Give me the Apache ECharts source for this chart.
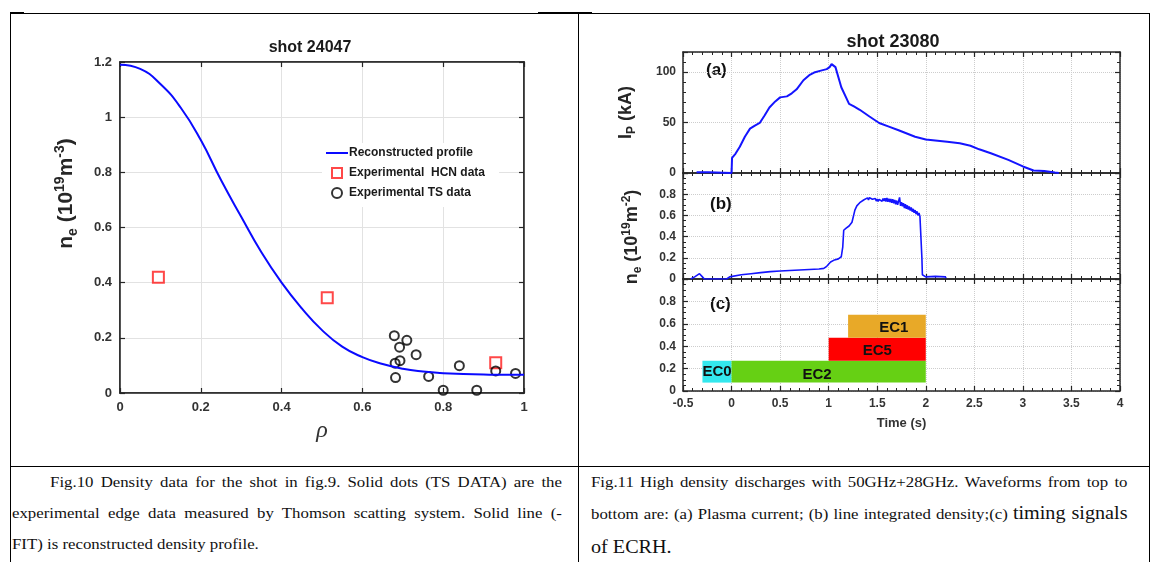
<!DOCTYPE html>
<html>
<head>
<meta charset="utf-8">
<title>shot 24047 / shot 23080</title>
<script src="https://cdn.jsdelivr.net/npm/echarts@6/dist/echarts.min.js"></script>
<style>
    body { margin: 0; background: #fff; }
    #page { position: relative; width: 1152px; height: 562px; overflow: hidden; background: #fff; }
    #chart { position: absolute; left: 0; top: 0; width: 1152px; height: 466px; }
    .ln { position: absolute; background: #000; }
    .cap { position: absolute; font-family: 'Liberation Serif', 'Times New Roman', serif; font-size: 15px; color: #111; }
    /* the scanned caption is a little wider than Liberation Serif, so stretch each line */
    .cap div { height: 31px; line-height: 31px; white-space: nowrap; text-align: justify; text-align-last: justify;
               transform: scaleX(1.12); transform-origin: 0 0; }
    .cap div.last { text-align-last: left; }
    .big { font-size: 18px; }
</style>
</head>
<body>
<div id="page">
    <div id="chart"></div>
    <!-- table lines -->
    <div class="ln" style="left:10px;top:13px;width:1140px;height:1px;"></div>
    <div class="ln" style="left:10px;top:12px;width:14px;height:2px;"></div>
    <div class="ln" style="left:538px;top:12px;width:54px;height:2px;"></div>
    <div class="ln" style="left:10px;top:13px;width:1px;height:549px;"></div>
    <div class="ln" style="left:578px;top:13px;width:1px;height:549px;"></div>
    <div class="ln" style="left:1149px;top:13px;width:1px;height:549px;"></div>
    <div class="ln" style="left:10px;top:466px;width:1140px;height:1px;"></div>
    <!-- captions (widths are target width / 1.12) -->
    <div class="cap" style="left:12px;top:467px;">
        <div style="width:457px;padding-left:34px;">Fig.10 Density data for the shot in fig.9. Solid dots (TS DATA) are the</div>
        <div style="width:491px;">experimental edge data measured by Thomson scatting system. Solid line (-</div>
        <div class="last" style="width:491px;">FIT) is reconstructed density profile.</div>
    </div>
    <div class="cap" style="left:591px;top:467px;">
        <div style="width:479px;">Fig.11 High density discharges with 50GHz+28GHz. Waveforms from top to</div>
        <div style="width:479px;">bottom are: (a) Plasma current; (b) line integrated density;(c) <span class="big">timing signals</span></div>
        <div class="last big" style="width:479px;height:36px;line-height:36px;">of ECRH.</div>
    </div>
</div>
<script>
    // ---- shot 24047 : density profile ----
    var rho = [0, 0.05, 0.1, 0.15, 0.2, 0.25, 0.3, 0.35, 0.4, 0.45, 0.5, 0.55, 0.6, 0.65, 0.7, 0.75, 0.8, 0.85, 0.9, 0.95, 1];
    var neFit = [1.19, 1.175, 1.12, 1.035, 0.917, 0.772, 0.639, 0.51, 0.40, 0.307, 0.228, 0.168, 0.13, 0.105, 0.088, 0.078, 0.072, 0.069, 0.067, 0.066, 0.066];
    var hcnRho = [0.095, 0.513, 0.93];
    var hcnNe = [0.42, 0.345, 0.11];
    var tsRho = [0.679, 0.710, 0.692, 0.733, 0.693, 0.681, 0.682, 0.764, 0.800, 0.840, 0.883, 0.930, 0.979];
    var tsNe = [0.208, 0.191, 0.166, 0.139, 0.117, 0.108, 0.056, 0.060, 0.010, 0.099, 0.010, 0.080, 0.071];

    // ---- shot 23080 : waveforms ----
    var ipT = [-0.36, -0.24, -0.23, 0, 0.005, 0.04, 0.085, 0.137, 0.19, 0.24, 0.29, 0.34, 0.39, 0.45, 0.5, 0.57, 0.62, 0.67, 0.74, 0.8, 0.85, 0.92, 0.98, 1.01, 1.03, 1.05, 1.07, 1.13, 1.21, 1.26, 1.32, 1.42, 1.52, 1.62, 1.72, 1.89, 2.0, 2.22, 2.35, 2.46, 2.55, 2.67, 2.85, 3.0, 3.11, 3.22, 3.33, 3.37];
    var ipV = [0.8, 0.8, 0, 0, 15, 19, 26, 36, 44, 47, 49.6, 57, 65, 71, 75, 76, 79, 83, 92, 97, 99.6, 101.5, 103, 105, 108, 108, 105, 85, 68.6, 66, 62.7, 56, 49.6, 46, 42.4, 36, 33.3, 31, 29.5, 27, 23.5, 19.6, 13, 6.5, 2.5, 2, 0.5, 0];
    var neT = [-0.42, -0.38, -0.33, -0.3, -0.28, -0.05, -0.02, 0, 0.1, 0.2, 0.3, 0.4, 0.5, 0.6, 0.7, 0.8, 0.9, 0.95, 0.98, 1.02, 1.06, 1.1, 1.13, 1.145, 1.155, 1.18, 1.21, 1.24, 1.27, 1.29, 1.32, 1.36,
        1.40, 1.41, 1.42, 1.43, 1.44, 1.45, 1.46, 1.47, 1.48, 1.49, 1.50, 1.51, 1.52, 1.53, 1.54, 1.55, 1.56, 1.57, 1.58, 1.59,
        1.60, 1.61, 1.62, 1.63, 1.64, 1.65, 1.66, 1.67, 1.68, 1.69, 1.70, 1.71, 1.72, 1.73, 1.74, 1.75, 1.76, 1.77, 1.78, 1.79,
        1.80, 1.81, 1.82, 1.83, 1.84, 1.85, 1.86, 1.87, 1.88, 1.89, 1.90, 1.91, 1.92, 1.93, 1.94, 1.95, 1.955, 1.96, 1.965,
        2.0, 2.1, 2.2, 2.21];
    var neV = [0, 0.02, 0.05, 0.02, 0, 0, 0.02, 0.03, 0.04, 0.05, 0.06, 0.07, 0.075, 0.08, 0.085, 0.09, 0.095, 0.1, 0.12, 0.16, 0.18, 0.19, 0.21, 0.3, 0.46, 0.48, 0.5, 0.535, 0.65, 0.69, 0.72, 0.745,
        0.765, 0.745, 0.768, 0.75, 0.772, 0.752, 0.768, 0.745, 0.76, 0.735, 0.755, 0.732, 0.752, 0.735, 0.758, 0.733, 0.76, 0.735, 0.762, 0.73,
        0.765, 0.728, 0.758, 0.725, 0.755, 0.72, 0.752, 0.715, 0.745, 0.705, 0.74, 0.70, 0.735, 0.77, 0.69, 0.725, 0.685, 0.715, 0.67, 0.705,
        0.662, 0.695, 0.655, 0.685, 0.645, 0.675, 0.635, 0.662, 0.625, 0.65, 0.612, 0.638, 0.6, 0.622, 0.59, 0.6, 0.58, 0.2, 0.04,
        0.02, 0.025, 0.02, 0.01];

    // ECRH timing
    var ecNames = ['EC0', 'EC2', 'EC5', 'EC1'];
    var ecStart = [-0.3, 0, 1, 1.2];
    var ecEnd = [0, 2, 2, 2];
    var ecLow = [0.075, 0.075, 0.27, 0.475];
    var ecHigh = [0.27, 0.27, 0.475, 0.68];
    var ecLabelT = [-0.15, 0.88, 1.5, 1.67];
    var ecLabelY = [0.17, 0.146, 0.357, 0.56];
    var ecColors = ['#33e8ee', '#66d014', '#ff0000', '#e8a928'];

    var AX = '#262626';
    var FONT = "'Liberation Sans', Arial, sans-serif";

    function zip(a, b) {
        return a.map(function (v, i) { return [v, b[i]]; });
    }

    function axis(gridIndex, position, min, max, interval, extra) {
        var a = {
            type: 'value', gridIndex: gridIndex, position: position,
            min: min, max: max, interval: interval,
            axisLine: { show: true, onZero: false, lineStyle: { color: AX, width: 1.5 } },
            axisTick: { show: true, inside: true, length: 5, lineStyle: { color: AX, width: 1.2 } },
            axisLabel: { show: false },
            splitLine: { show: false }
        };
        for (var k in extra) a[k] = extra[k];
        return a;
    }

    var lblLeft = { show: true, color: '#333', fontWeight: 'bold', fontSize: 13, fontFamily: FONT, margin: 8 };
    var lblRight = { show: true, color: '#333', fontWeight: 'bold', fontSize: 12, fontFamily: FONT, margin: 7, showMaxLabel: false };
    var gridSolid = { show: true, lineStyle: { color: '#e2e2e2', width: 1 } };
    var gridDot = { show: true, lineStyle: { color: '#cdcdcd', width: 1, type: 'dotted' } };
    var minor5 = { show: true, splitNumber: 5, length: 3, lineStyle: { color: AX, width: 1 } };
    var minor4 = { show: true, splitNumber: 4, length: 3, lineStyle: { color: AX, width: 1 } };

    var nameRich = {
        b: { fontSize: 21, fontWeight: 'bold', color: '#262626', fontFamily: FONT, lineHeight: 27 },
        s: { fontSize: 14, fontWeight: 'bold', color: '#262626', fontFamily: FONT, verticalAlign: 'bottom', lineHeight: 13 },
        p: { fontSize: 14, fontWeight: 'bold', color: '#262626', fontFamily: FONT, verticalAlign: 'top', lineHeight: 13 }
    };
    var nameRichR = {
        b: { fontSize: 18, fontWeight: 'bold', color: '#262626', fontFamily: FONT, lineHeight: 23 },
        s: { fontSize: 12, fontWeight: 'bold', color: '#262626', fontFamily: FONT, verticalAlign: 'bottom', lineHeight: 11 },
        p: { fontSize: 12, fontWeight: 'bold', color: '#262626', fontFamily: FONT, verticalAlign: 'top', lineHeight: 11 }
    };

    var xAxes = [
        // left chart
        axis(0, 'bottom', 0, 1, 0.2, {
            axisLabel: lblLeft, splitLine: gridSolid,
            name: 'ρ', nameLocation: 'middle', nameGap: 26,
            nameTextStyle: { fontFamily: "'Liberation Serif', serif", fontStyle: 'italic', fontSize: 24, color: '#333' }
        }),
        axis(0, 'top', 0, 1, 0.2, {})
    ];
    var yAxes = [
        axis(0, 'left', 0, 1.2, 0.2, {
            axisLabel: lblLeft, splitLine: gridSolid,
            name: '{b|n}{s|e}{b| (10}{p|19}{b|m}{p|-3}{b|)}', nameLocation: 'middle', nameGap: 40, nameRotate: 90,
            nameTextStyle: { rich: nameRich, padding: [0, 0, 0, 68] }
        }),
        axis(0, 'right', 0, 1.2, 0.2, {})
    ];

    // right chart: three stacked panels sharing time axis
    var yRange = [[0, 120, 50, minor5], [0, 1, 0.2, minor4], [0, 1, 0.2, minor4]];
    var yNames = ['{b|I}{s|P}{b| (kA)}', '{b|n}{s|e}{b| (10}{p|19}{b|m}{p|-2}{b|)}', ''];
    var yNamePad = [[0, 0, 0, 0], [0, 22, 0, 0], [0, 0, 0, 0]];
    for (var g = 1; g <= 3; g++) {
        var xa = { minorTick: minor5, splitLine: gridDot };
        if (g === 3) {
            xa.axisLabel = { show: true, color: '#333', fontWeight: 'bold', fontSize: 12, fontFamily: FONT, margin: 7 };
            xa.name = 'Time (s)';
            xa.nameLocation = 'middle';
            xa.nameGap = 26;
            xa.nameTextStyle = { fontSize: 13, fontWeight: 'bold', color: '#333', fontFamily: FONT };
        }
        xAxes.push(axis(g, 'bottom', -0.5, 4, 0.5, xa));
        xAxes.push(axis(g, 'top', -0.5, 4, 0.5, { minorTick: minor5 }));

        var r = yRange[g - 1];
        var ya = { axisLabel: lblRight, splitLine: gridDot, minorTick: r[3] };
        if (yNames[g - 1]) {
            ya.name = yNames[g - 1];
            ya.nameLocation = 'middle';
            ya.nameRotate = 90;
            ya.nameGap = g === 1 ? 45 : 39;
            ya.nameTextStyle = { rich: nameRichR, padding: yNamePad[g - 1] };
        }
        yAxes.push(axis(g, 'left', r[0], r[1], r[2], ya));
        yAxes.push(axis(g, 'right', r[0], r[1], r[2], { minorTick: r[3] }));
    }

    var chart = echarts.init(document.getElementById('chart'));
    chart.setOption({
        animation: false,
        backgroundColor: 'transparent',
        title: [
            { text: 'shot 24047', left: 305, top: 35, textAlign: 'center',
              textStyle: { fontSize: 16, fontWeight: 'bold', color: '#1a1a1a', fontFamily: FONT } },
            { text: 'shot 23080', left: 888, top: 28, textAlign: 'center',
              textStyle: { fontSize: 18, fontWeight: 'bold', color: '#1a1a1a', fontFamily: FONT } }
        ],
        legend: {
            left: 322, top: 143, orient: 'vertical',
            backgroundColor: '#fff', padding: [4, 14, 8, 3],
            itemWidth: 22, itemHeight: 10, itemGap: 8,
            textStyle: { fontSize: 12, fontWeight: 'bold', color: '#1a1a1a', fontFamily: FONT, padding: [0, 0, 0, -4] },
            data: [
                { name: 'Reconstructed profile', itemStyle: { color: 'rgba(0,0,0,0)', borderWidth: 0, opacity: 0 } },
                'Experimental  HCN data',
                'Experimental TS data'
            ]
        },
        grid: [
            { left: 120, top: 62, width: 404, height: 331, show: true, borderColor: AX, borderWidth: 1.5 },
            { left: 683, top: 52, width: 437, height: 121 },
            { left: 683, top: 173, width: 437, height: 106 },
            { left: 683, top: 279, width: 437, height: 112 }
        ],
        xAxis: xAxes,
        yAxis: yAxes,
        graphic: [
            { type: 'text', left: 706, top: 62, style: { text: '(a)', font: 'bold 17px ' + FONT, fill: '#111' } },
            { type: 'text', left: 710, top: 196, style: { text: '(b)', font: 'bold 17px ' + FONT, fill: '#111' } },
            { type: 'text', left: 710, top: 296, style: { text: '(c)', font: 'bold 17px ' + FONT, fill: '#111' } }
        ],
        series: [
            {
                name: 'Reconstructed profile', type: 'line', xAxisIndex: 0, yAxisIndex: 0,
                data: zip(rho, neFit), smooth: true, symbol: 'none',
                lineStyle: { color: '#0a0aff', width: 2 }, itemStyle: { color: '#0a0aff' }
            },
            {
                name: 'Experimental  HCN data', type: 'scatter', xAxisIndex: 0, yAxisIndex: 0,
                data: zip(hcnRho, hcnNe), symbol: 'path://M0,0H10V10H0Z', symbolKeepAspect: true, symbolSize: 11,
                itemStyle: { color: 'rgba(255,255,255,0)', borderColor: '#ff1a1a', borderWidth: 2 }
            },
            {
                name: 'Experimental TS data', type: 'scatter', xAxisIndex: 0, yAxisIndex: 0,
                data: zip(tsRho, tsNe), symbol: 'path://M5,0A5,5,0,1,1,5,10A5,5,0,1,1,5,0Z', symbolKeepAspect: true, symbolSize: 9,
                itemStyle: { color: 'rgba(255,255,255,0)', borderColor: '#000', borderWidth: 2 }
            },
            {
                type: 'line', xAxisIndex: 2, yAxisIndex: 2, data: zip(ipT, ipV), symbol: 'none',
                lineStyle: { color: '#1414ff', width: 2 }
            },
            {
                type: 'line', xAxisIndex: 4, yAxisIndex: 4, data: zip(neT, neV), symbol: 'none',
                lineStyle: { color: '#1414ff', width: 1.6 }
            },
            {
                type: 'custom', xAxisIndex: 6, yAxisIndex: 6,
                data: ecNames.map(function (n, i) {
                    return [ecStart[i], ecEnd[i], ecLow[i], ecHigh[i], ecLabelT[i], ecLabelY[i]];
                }),
                encode: { x: [0, 1, 4], y: [2, 3, 5] },
                renderItem: function (params, api) {
                    var i = params.dataIndex;
                    var p0 = api.coord([api.value(0), api.value(3)]);
                    var p1 = api.coord([api.value(1), api.value(2)]);
                    var pl = api.coord([api.value(4), api.value(5)]);
                    return {
                        type: 'group',
                        children: [
                            { type: 'rect', shape: { x: p0[0], y: p0[1], width: p1[0] - p0[0], height: p1[1] - p0[1] },
                              style: { fill: ecColors[i] } },
                            { type: 'text', x: pl[0], y: pl[1],
                              style: { text: ecNames[i], fill: '#111', font: 'bold 15px ' + FONT, align: 'center', verticalAlign: 'middle' } }
                        ]
                    };
                }
            }
        ]
    });
</script>
</body>
</html>
